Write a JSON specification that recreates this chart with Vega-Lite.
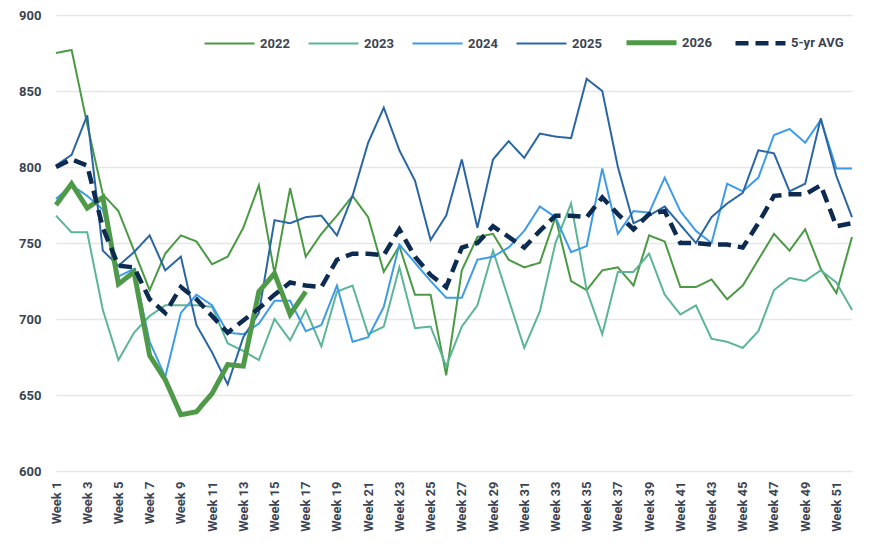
{
  "$schema": "https://vega.github.io/schema/vega-lite/v6.json",
  "width": 796,
  "height": 456,
  "autosize": {"type": "none"},
  "padding": {"left": 56, "top": 15, "right": 17, "bottom": 73},
  "background": "white",
  "config": {
    "view": {"stroke": null},
    "font": "Roboto",
    "axis": {"labelFont": "Roboto", "labelFontSize": 13, "labelFontWeight": "bold", "labelColor": "#3b4452"},
    "legend": {"labelFont": "Roboto", "labelFontSize": 13, "labelFontWeight": "bold", "labelColor": "#3b4452"}
  },
  "data": {
    "values": [
      {"week": 1, "2022": 875, "2023": 768, "2024": 779, "2025": 801, "2026": 775, "5-yr AVG": 800},
      {"week": 2, "2022": 877, "2023": 757, "2024": 788, "2025": 808, "2026": 789, "5-yr AVG": 805},
      {"week": 3, "2022": 828, "2023": 757, "2024": 781, "2025": 834, "2026": 773, "5-yr AVG": 801},
      {"week": 4, "2022": 782, "2023": 706, "2024": 772, "2025": 745, "2026": 780, "5-yr AVG": 760},
      {"week": 5, "2022": 771, "2023": 673, "2024": 728, "2025": 735, "2026": 723, "5-yr AVG": 735},
      {"week": 6, "2022": 745, "2023": 691, "2024": 733, "2025": 744, "2026": 731, "5-yr AVG": 734},
      {"week": 7, "2022": 719, "2023": 702, "2024": 685, "2025": 755, "2026": 676, "5-yr AVG": 713},
      {"week": 8, "2022": 743, "2023": 709, "2024": 662, "2025": 732, "2026": 660, "5-yr AVG": 704},
      {"week": 9, "2022": 755, "2023": 709, "2024": 704, "2025": 741, "2026": 637, "5-yr AVG": 721},
      {"week": 10, "2022": 751, "2023": 709, "2024": 716, "2025": 696, "2026": 639, "5-yr AVG": 713},
      {"week": 11, "2022": 736, "2023": 708, "2024": 709, "2025": 678, "2026": 651, "5-yr AVG": 702},
      {"week": 12, "2022": 741, "2023": 684, "2024": 691, "2025": 657, "2026": 670, "5-yr AVG": 691},
      {"week": 13, "2022": 760, "2023": 679, "2024": 690, "2025": 688, "2026": 669, "5-yr AVG": 699},
      {"week": 14, "2022": 788, "2023": 673, "2024": 697, "2025": 704, "2026": 718, "5-yr AVG": 707},
      {"week": 15, "2022": 730, "2023": 700, "2024": 712, "2025": 765, "2026": 730, "5-yr AVG": 716},
      {"week": 16, "2022": 786, "2023": 686, "2024": 712, "2025": 763, "2026": 703, "5-yr AVG": 724},
      {"week": 17, "2022": 741, "2023": 706, "2024": 692, "2025": 767, "2026": 718, "5-yr AVG": 722},
      {"week": 18, "2022": 756, "2023": 682, "2024": 696, "2025": 768, "5-yr AVG": 721},
      {"week": 19, "2022": 768, "2023": 718, "2024": 722, "2025": 755, "5-yr AVG": 739},
      {"week": 20, "2022": 781, "2023": 722, "2024": 685, "2025": 781, "5-yr AVG": 743},
      {"week": 21, "2022": 767, "2023": 690, "2024": 688, "2025": 816, "5-yr AVG": 743},
      {"week": 22, "2022": 731, "2023": 695, "2024": 708, "2025": 839, "5-yr AVG": 742},
      {"week": 23, "2022": 748, "2023": 734, "2024": 749, "2025": 811, "5-yr AVG": 759},
      {"week": 24, "2022": 716, "2023": 694, "2024": 737, "2025": 791, "5-yr AVG": 741},
      {"week": 25, "2022": 716, "2023": 695, "2024": 725, "2025": 752, "5-yr AVG": 729},
      {"week": 26, "2022": 663, "2023": 669, "2024": 714, "2025": 768, "5-yr AVG": 721},
      {"week": 27, "2022": 732, "2023": 695, "2024": 714, "2025": 805, "5-yr AVG": 747},
      {"week": 28, "2022": 754, "2023": 709, "2024": 739, "2025": 760, "5-yr AVG": 750},
      {"week": 29, "2022": 756, "2023": 745, "2024": 741, "2025": 805, "5-yr AVG": 761},
      {"week": 30, "2022": 739, "2023": 713, "2024": 747, "2025": 817, "5-yr AVG": 754},
      {"week": 31, "2022": 734, "2023": 681, "2024": 758, "2025": 806, "5-yr AVG": 747},
      {"week": 32, "2022": 737, "2023": 705, "2024": 774, "2025": 822, "5-yr AVG": 758},
      {"week": 33, "2022": 767, "2023": 750, "2024": 767, "2025": 820, "5-yr AVG": 768},
      {"week": 34, "2022": 725, "2023": 776, "2024": 744, "2025": 819, "5-yr AVG": 768},
      {"week": 35, "2022": 719, "2023": 719, "2024": 748, "2025": 858, "5-yr AVG": 767},
      {"week": 36, "2022": 732, "2023": 690, "2024": 799, "2025": 850, "5-yr AVG": 780},
      {"week": 37, "2022": 734, "2023": 731, "2024": 756, "2025": 800, "5-yr AVG": 769},
      {"week": 38, "2022": 722, "2023": 731, "2024": 771, "2025": 763, "5-yr AVG": 759},
      {"week": 39, "2022": 755, "2023": 743, "2024": 770, "2025": 768, "5-yr AVG": 769},
      {"week": 40, "2022": 751, "2023": 716, "2024": 793, "2025": 774, "5-yr AVG": 771},
      {"week": 41, "2022": 721, "2023": 703, "2024": 771, "2025": 762, "5-yr AVG": 750},
      {"week": 42, "2022": 721, "2023": 709, "2024": 758, "2025": 750, "5-yr AVG": 750},
      {"week": 43, "2022": 726, "2023": 687, "2024": 750, "2025": 767, "5-yr AVG": 749},
      {"week": 44, "2022": 713, "2023": 685, "2024": 789, "2025": 776, "5-yr AVG": 749},
      {"week": 45, "2022": 722, "2023": 681, "2024": 784, "2025": 783, "5-yr AVG": 747},
      {"week": 46, "2022": 739, "2023": 692, "2024": 793, "2025": 811, "5-yr AVG": 763},
      {"week": 47, "2022": 756, "2023": 719, "2024": 821, "2025": 809, "5-yr AVG": 781},
      {"week": 48, "2022": 745, "2023": 727, "2024": 825, "2025": 784, "5-yr AVG": 782},
      {"week": 49, "2022": 759, "2023": 725, "2024": 816, "2025": 789, "5-yr AVG": 782},
      {"week": 50, "2022": 733, "2023": 732, "2024": 831, "2025": 832, "5-yr AVG": 788},
      {"week": 51, "2022": 717, "2023": 724, "2024": 799, "2025": 794, "5-yr AVG": 761},
      {"week": 52, "2022": 754, "2023": 706, "2024": 799, "2025": 767, "5-yr AVG": 763}
    ]
  },
  "transform": [
    {"fold": ["2022", "2023", "2024", "2025", "2026", "5-yr AVG"], "as": ["series", "value"]},
    {"filter": "datum.value != null"}
  ],
  "mark": {"type": "line", "strokeJoin": "miter"},
  "encoding": {
    "x": {
      "field": "week", "type": "quantitative",
      "scale": {"domain": [1, 52], "nice": false, "zero": false},
      "axis": {
        "values": [1,3,5,7,9,11,13,15,17,19,21,23,25,27,29,31,33,35,37,39,41,43,45,47,49,51],
        "labelExpr": "'Week ' + datum.value",
        "labelAngle": -90, "labelPadding": 10, "grid": false, "ticks": false, "domain": false, "title": null
      }
    },
    "y": {
      "field": "value", "type": "quantitative",
      "scale": {"domain": [600, 900], "nice": false, "zero": false},
      "axis": {
        "values": [600, 650, 700, 750, 800, 850, 900],
        "grid": true, "gridColor": "#e6e6e6", "gridWidth": 1.5,
        "ticks": false, "domain": false, "title": null, "labelPadding": 15
      }
    },
    "color": {
      "field": "series", "type": "nominal",
      "scale": {
        "domain": ["2022", "2023", "2024", "2025", "2026", "5-yr AVG"],
        "range": ["#4a9a43", "#5bb597", "#3d9be9", "#2a66a3", "#4f9a48", "#0d2b50"]
      },
      "legend": {
        "title": null, "orient": "none", "legendX": 146, "legendY": 0, "direction": "horizontal", "columns": 6,
        "symbolType": "stroke", "symbolSize": 2500, "labelOffset": 3, "columnPadding": 14
      }
    },
    "strokeWidth": {
      "field": "series", "type": "nominal",
      "scale": {"type": "ordinal", "domain": ["2022", "2023", "2024", "2025", "2026", "5-yr AVG"], "range": [2, 2, 2, 2, 5, 4.5]},
      "legend": {
        "title": null, "orient": "none", "legendX": 146, "legendY": 0, "direction": "horizontal", "columns": 6,
        "symbolType": "stroke", "symbolSize": 2500, "labelOffset": 3, "columnPadding": 14
      }
    },
    "strokeDash": {
      "field": "series", "type": "nominal",
      "scale": {"domain": ["2022", "2023", "2024", "2025", "2026", "5-yr AVG"], "range": [[1, 0], [1, 0], [1, 0], [1, 0], [1, 0], [13, 7]]},
      "legend": {
        "title": null, "orient": "none", "legendX": 146, "legendY": 0, "direction": "horizontal", "columns": 6,
        "symbolType": "stroke", "symbolSize": 2500, "labelOffset": 3, "columnPadding": 14
      }
    }
  }
}
